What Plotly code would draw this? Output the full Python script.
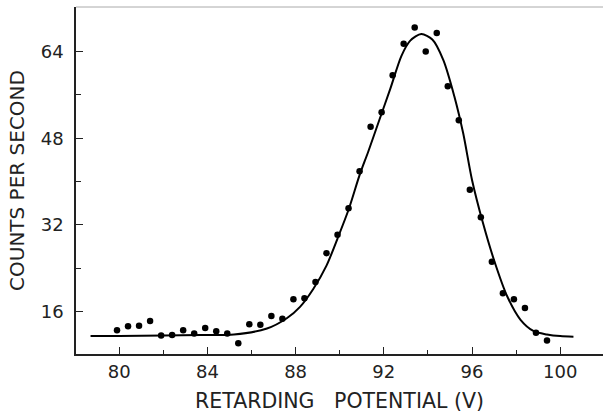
import plotly.graph_objects as go

# Measured data points (retarding potential in V, counts per second)
potential = [79.9, 80.4, 80.9, 81.4, 81.9, 82.4, 82.9, 83.4, 83.9, 84.4,
             84.9, 85.4, 85.9, 86.4, 86.9, 87.4, 87.9, 88.4, 88.9, 89.4,
             89.9, 90.4, 90.9, 91.4, 91.9, 92.4, 92.9, 93.4, 93.9, 94.4,
             94.9, 95.4, 95.9, 96.4, 96.9, 97.4, 97.9, 98.4, 98.9, 99.4]
counts = [12.6, 13.3, 13.4, 14.3, 11.6, 11.7, 12.6, 12.0, 13.0, 12.4,
          12.0, 10.2, 13.7, 13.6, 15.2, 14.7, 18.3, 18.5, 21.5, 26.8,
          30.2, 35.1, 41.9, 50.1, 52.8, 59.6, 65.4, 68.4, 64.0, 67.4,
          57.6, 51.3, 38.5, 33.4, 25.2, 19.4, 18.3, 16.7, 12.1, 10.7]

# Fitted curve
fit_v = [78.7, 80.0, 82.0, 83.7, 85.2, 86.7, 87.6, 88.2, 88.8, 89.4,
         89.9, 90.4, 90.9, 91.3, 91.8, 92.3, 92.8, 93.2, 93.7, 94.2,
         94.7, 95.2, 95.6, 96.0, 96.5, 97.0, 97.6, 98.2, 98.8, 99.4,
         100.0, 100.6]
fit_c = [11.5, 11.5, 11.6, 11.7, 11.8, 12.9, 14.8, 16.9, 20.2, 24.5,
         29.5, 34.8, 41.2, 45.6, 51.4, 57.2, 63.2, 66.0, 67.2, 66.2,
         62.4, 55.7, 48.9, 40.3, 32.3, 25.5, 18.8, 14.5, 12.4, 11.8,
         11.5, 11.4]

x_ticks = [80, 84, 88, 92, 96, 100]
y_ticks = [16, 32, 48, 64]

font_family = "DejaVu Sans, sans-serif"

fig = go.Figure()
fig.add_trace(go.Scatter(x=fit_v, y=fit_c, mode="lines",
                         line=dict(color="black", width=2, shape="spline", smoothing=0.8),
                         hoverinfo="skip"))
fig.add_trace(go.Scatter(x=potential, y=counts, mode="markers",
                         marker=dict(color="black", size=6.5)))

fig.update_layout(
    width=603, height=413,
    margin=dict(l=76, r=0, t=7, b=59),
    paper_bgcolor="white", plot_bgcolor="white",
    showlegend=False,
    font=dict(family=font_family, color="#222", size=18),
    xaxis=dict(
        range=[78.04, 101.94],
        tickvals=x_ticks,
        ticks="inside", ticklen=7, tickwidth=1.2, tickcolor="#222",
        minor=dict(tickvals=[82, 86, 90, 94, 98], ticks="inside", ticklen=4,
                   tickwidth=1.2, tickcolor="#222"),
        showline=True, linecolor="#222", linewidth=1.5,
        showgrid=False, zeroline=False, automargin=False,
        ticklabelstandoff=1,
        tickfont=dict(size=18),
        title=dict(text="RETARDING\u00a0\u00a0 POTENTIAL (V)", font=dict(size=20.5), standoff=12),
    ),
    yaxis=dict(
        range=[8.2, 72.2],
        tickvals=y_ticks,
        ticks="inside", ticklen=7, tickwidth=1.2, tickcolor="#222",
        minor=dict(tickvals=[24, 40, 56], ticks="inside", ticklen=5,
                   tickwidth=1.2, tickcolor="#222"),
        showline=True, linecolor="#222", linewidth=1.5,
        showgrid=False, zeroline=False, automargin=False,
        ticklabelstandoff=7,
        tickfont=dict(size=18),
        title=dict(text="COUNTS PER SECOND", font=dict(size=20), standoff=11),
    ),
    shapes=[dict(type="line", xref="paper", yref="paper", x0=0, x1=1, y0=1, y1=1,
                 line=dict(color="#aaa", width=1))],
)

fig.write_html("out.html", config={"displayModeBar": False},
               post_script="document.body.style.margin='0px';")
